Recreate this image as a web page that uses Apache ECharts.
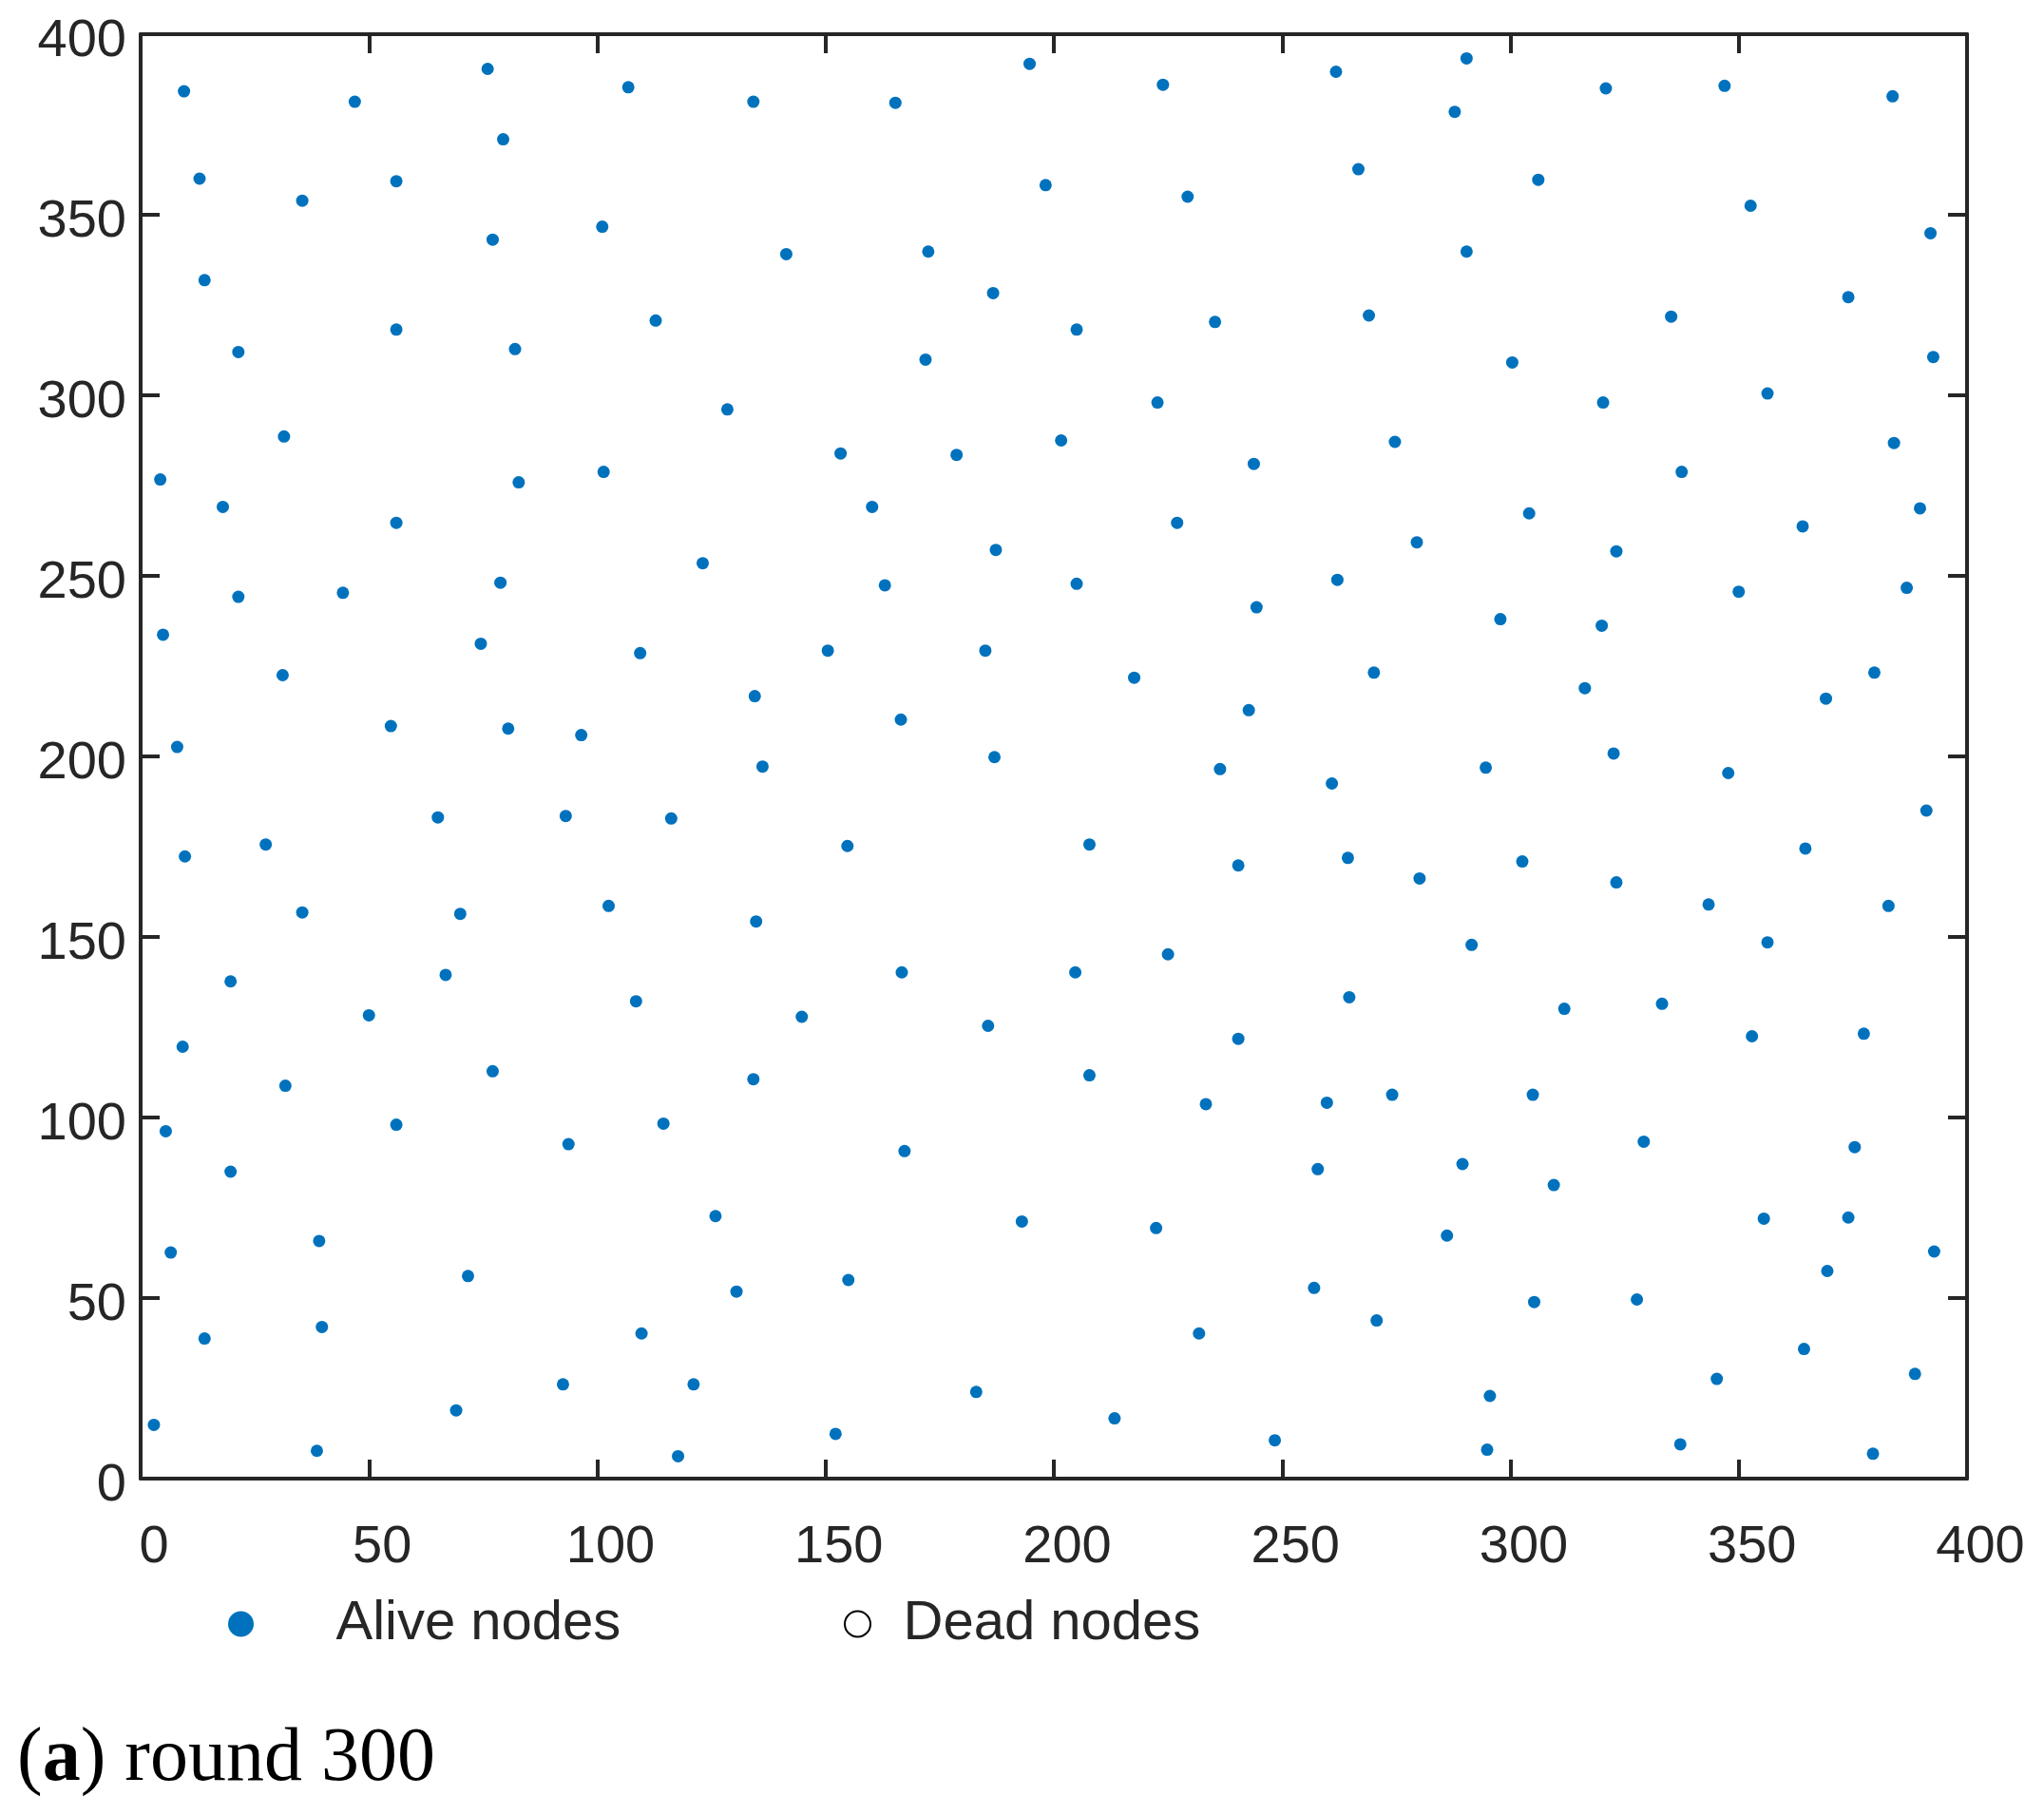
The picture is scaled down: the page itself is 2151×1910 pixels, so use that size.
<!DOCTYPE html>
<html>
<head>
<meta charset="utf-8">
<script src="https://cdn.jsdelivr.net/npm/echarts@6/dist/echarts.min.js"></script>
<style>
  html, body { margin: 0; padding: 0; background: #fff; }
  #chart { width: 2151px; height: 1910px; }
</style>
</head>
<body>
<div id="chart"></div>
<script>
// node positions at round 300 (all alive)
var aliveX = [
  9.5, 46.9, 76.0, 106.8, 134.2, 165.3, 194.7, 223.9, 261.8, 290.4, 320.9, 346.9, 383.7,
  79.4, 287.8, 12.9, 56.0, 266.7, 306.1, 198.2, 352.6, 35.4, 229.3, 101.1, 77.1, 392.0, 172.5, 290.4, 141.4,
  14.0, 186.7, 374.0, 112.8, 205.0, 235.3, 269.0, 335.2, 56.0, 21.4, 82.0, 171.9, 300.4, 392.6,
  128.5, 222.7, 320.3, 356.3, 31.4, 153.3, 178.7, 201.6, 274.7, 384.0, 243.8, 337.5, 4.3, 82.8, 101.4,
  18.0, 160.2, 304.1, 389.7, 227.0, 56.0, 364.0, 279.5, 187.3, 323.2, 123.1, 78.8, 163.0, 205.0, 262.1, 386.8,
  21.4, 44.3, 350.0, 4.9, 244.4, 74.5, 297.8, 320.0, 109.4, 150.5, 185.0, 217.6, 270.1, 379.7, 31.1, 316.3, 134.5, 369.1,
  242.7, 166.5, 54.8, 80.5, 96.5, 8.0, 187.0, 322.6, 136.2, 236.4, 294.6, 347.7, 260.9, 65.1, 93.1, 116.2, 391.1,
  27.4, 154.8, 207.8, 364.6, 9.7, 264.4, 240.4, 302.6, 280.1, 323.2, 343.4, 102.5, 382.8, 35.4, 70.0, 134.8,
  291.5, 356.3, 19.7, 66.8, 166.7, 204.7, 225.0, 264.7, 333.2, 108.5, 311.8, 144.8, 50.0, 185.6, 352.9, 377.4, 240.4,
  9.2, 77.1, 207.8, 134.2, 304.9, 31.7, 274.1, 233.3, 259.8, 5.5, 56.0, 114.5, 329.2, 93.7, 167.3, 375.4,
  289.5, 257.8, 19.7, 309.5, 193.0, 125.9, 355.5, 374.0, 222.4, 286.1, 39.1, 392.8, 6.6, 369.4, 71.7, 155.0,
  257.0, 130.5, 327.7, 305.2, 39.7, 109.7, 231.8, 270.7, 14.0, 364.3, 388.6, 345.2, 92.5, 121.1, 69.1, 183.0,
  295.5, 213.3, 2.9, 152.2, 248.4, 337.2, 38.6, 294.9, 117.7, 379.4
];
var aliveY = [
  384.2, 381.3, 390.4, 385.3, 381.3, 381.0, 391.8, 386.0, 389.6, 393.3, 385.0, 385.7, 382.8,
  370.9, 378.5, 360.0, 359.3, 362.6, 359.7, 358.2, 352.5, 353.9, 355.0, 346.7, 343.1, 344.9, 339.8, 339.8, 339.1,
  331.9, 328.3, 327.2, 320.7, 318.2, 320.3, 322.1, 321.8, 318.2, 312.0, 312.8, 309.9, 309.1, 310.6,
  296.1, 298.0, 298.0, 300.5, 288.6, 283.9, 283.5, 287.5, 287.1, 286.8, 281.0, 278.8, 276.7, 275.9, 278.8,
  269.1, 269.1, 267.3, 268.7, 264.7, 264.7, 263.7, 259.3, 257.2, 256.8, 253.5, 248.1, 247.4, 247.8, 248.9, 246.7,
  244.2, 245.3, 245.6, 233.7, 241.3, 231.2, 238.0, 236.2, 228.6, 229.3, 229.3, 221.8, 223.2, 223.2, 222.5, 218.9, 216.7, 216.0,
  212.8, 210.2, 208.4, 207.7, 205.9, 202.6, 199.8, 200.8, 197.2, 196.5, 196.9, 195.4, 192.5, 183.1, 183.5, 182.8, 185.0,
  175.6, 175.2, 175.6, 174.5, 172.3, 171.9, 169.8, 170.9, 166.2, 165.1, 159.0, 158.6, 158.6, 156.8, 156.4, 154.3,
  147.8, 148.5, 137.7, 139.5, 140.2, 140.2, 145.2, 133.3, 131.5, 132.2, 130.1, 127.9, 128.3, 125.4, 122.5, 123.2, 121.8,
  119.6, 112.8, 111.7, 110.6, 106.3, 108.8, 106.3, 103.7, 104.1, 96.2, 98.0, 98.3, 93.3, 92.6, 90.7, 91.8,
  87.1, 85.7, 85.0, 81.3, 71.2, 72.7, 72.0, 72.3, 69.4, 67.3, 65.8, 62.9, 62.6, 57.5, 56.1, 55.0,
  52.8, 51.8, 49.6, 48.9, 42.0, 40.2, 40.2, 43.8, 38.8, 35.9, 29.0, 27.6, 26.1, 26.1, 18.9, 24.0,
  22.9, 16.7, 14.9, 12.4, 10.6, 9.5, 7.7, 8.0, 6.2, 6.9
];
// no dead nodes yet
var deadX = [];
var deadY = [];

var AXIS_COLOR = '#262626';
var SANS = 'Liberation Sans, Arial, sans-serif';

var toPoints = function(xs, ys) {
  var pts = [];
  for (var i = 0; i < xs.length; i++) {
    pts.push([xs[i], ys[i]]);
  }
  return pts;
};

var makeAxis = function(pos, showLabel) {
  var isX = (pos === 'bottom' || pos === 'top');
  var label = {
    show: showLabel,
    margin: isX ? 45 : 15,
    fontSize: 56,
    fontFamily: SANS,
    color: AXIS_COLOR
  };
  // labels sit a little right / low of their ticks in the original
  if (isX) {
    label.padding = [0, 0, 0, 28];
  } else {
    label.verticalAlign = 'top';
    label.lineHeight = 16;
  }
  return {
    type: 'value',
    position: pos,
    min: 0,
    max: 400,
    interval: 50,
    axisLine: { show: true, onZero: false, lineStyle: { color: AXIS_COLOR, width: 4 } },
    axisTick: { show: true, inside: true, length: 20, lineStyle: { color: AXIS_COLOR, width: 4 } },
    axisLabel: label,
    splitLine: { show: false }
  };
};

var chart = echarts.init(document.getElementById('chart'));

var legendText = { fontSize: 58, fontFamily: SANS, color: AXIS_COLOR };

var option = {
  animation: false,
  backgroundColor: '#fff',
  title: {
    text: '({b|a}) round 300',
    left: 18,
    top: 1812,
    padding: 0,
    textStyle: {
      fontFamily: 'Liberation Serif, serif',
      fontSize: 80,
      fontWeight: 'normal',
      color: '#000',
      rich: {
        b: { fontFamily: 'Liberation Serif, serif', fontSize: 80, fontWeight: 'bold', color: '#000' }
      }
    }
  },
  grid: {
    left: 148,
    top: 36,
    width: 1922,
    height: 1520,
    outerBoundsMode: 'none'
  },
  legend: [{
    data: ['Alive nodes'],
    left: 235,
    top: 1675,
    icon: 'circle',
    itemWidth: 190,
    itemHeight: 27,
    textStyle: legendText
  }, {
    data: ['Dead nodes'],
    left: 883,
    top: 1675,
    icon: 'circle',
    itemWidth: 86,
    itemHeight: 27,
    textStyle: legendText
  }],
  xAxis: [makeAxis('bottom', true), makeAxis('top', false)],
  yAxis: [makeAxis('left', true), makeAxis('right', false)],
  series: [{
    name: 'Alive nodes',
    type: 'scatter',
    symbol: 'circle',
    symbolSize: 13,
    itemStyle: { color: '#0072BD', opacity: 1 },
    data: toPoints(aliveX, aliveY)
  }, {
    name: 'Dead nodes',
    type: 'scatter',
    symbol: 'circle',
    symbolSize: 13,
    itemStyle: { color: '#fff', borderColor: '#000', borderWidth: 1.5, opacity: 1 },
    data: toPoints(deadX, deadY)
  }]
};

chart.setOption(option);
</script>
</body>
</html>
